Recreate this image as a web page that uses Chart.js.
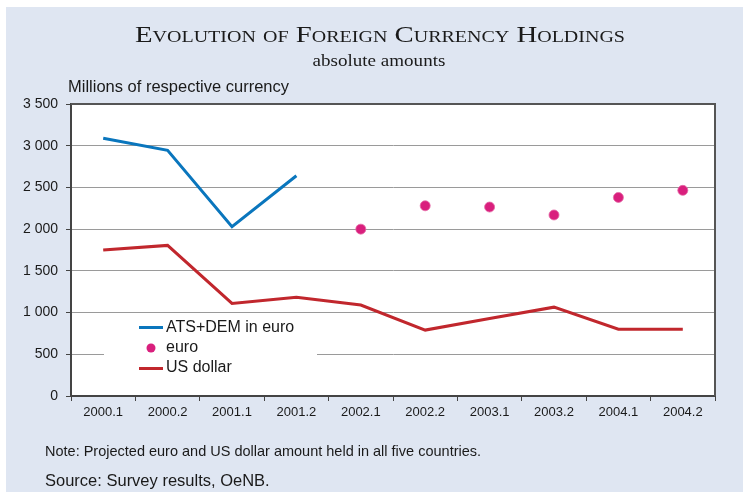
<!DOCTYPE html>
<html lang="en">
<head>
  <meta charset="UTF-8">
  <title>Evolution of Foreign Currency Holdings</title>
  <script src="https://cdn.jsdelivr.net/npm/chart.js"></script>
  <style>
    html, body {
      margin: 0;
      padding: 0;
      background: #fff;
    }
    #panel {
      position: absolute;
      left: 6px;
      top: 7px;
      width: 737px;
      height: 485px;
      background: #dfe6f2;
    }
    #wrap {
      position: absolute;
      left: 0;
      top: 0;
      width: 743px;
      height: 492px;
    }
    canvas {
      position: absolute;
      left: 0;
      top: 0;
    }
    .txt {
      position: absolute;
      white-space: nowrap;
      color: #1a1a1a;
    }
    #title {
      left: 0;
      width: 760px;
      text-align: center;
      top: 22px;
      font-family: "Liberation Serif", "Times New Roman", serif;
      font-size: 23px;
      font-variant: small-caps;
      line-height: 26px;
      transform: scaleX(1.25);
      transform-origin: 380px 0;
    }
    #subtitle {
      left: 0;
      width: 758px;
      text-align: center;
      top: 51px;
      font-family: "Liberation Serif", "Times New Roman", serif;
      font-size: 17px;
      line-height: 20px;
      transform: scaleX(1.12);
      transform-origin: 379px 0;
    }
    #unit {
      left: 68px;
      top: 77px;
      font-family: "Liberation Sans", Arial, sans-serif;
      font-size: 16.5px;
      line-height: 19px;
    }
    #note {
      left: 45px;
      top: 443px;
      font-family: "Liberation Sans", Arial, sans-serif;
      font-size: 14.5px;
      line-height: 17px;
    }
    #source {
      left: 45px;
      top: 471px;
      font-family: "Liberation Sans", Arial, sans-serif;
      font-size: 16.5px;
      line-height: 19px;
    }
  </style>
</head>
<body>
<div id="panel"></div>
<div id="wrap">
  <canvas id="chart" width="743" height="492"></canvas>
  <div class="txt" id="title">Evolution of Foreign Currency Holdings</div>
  <div class="txt" id="subtitle">absolute amounts</div>
  <div class="txt" id="unit">Millions of respective currency</div>
  <div class="txt" id="note">Note: Projected euro and US dollar amount held in all five countries.</div>
  <div class="txt" id="source">Source: Survey results, OeNB.</div>
</div>
<script>
const periods = ['2000.1', '2000.2', '2001.1', '2001.2', '2002.1', '2002.2', '2003.1', '2003.2', '2004.1', '2004.2'];
const atsDem = [3090, 2945, 2030, 2640, null, null, null, null, null, null];
const euro = [null, null, null, null, 2000, 2280, 2265, 2170, 2380, 2465];
const usDollar = [1750, 1805, 1110, 1185, 1090, 790, 930, 1065, 800, 800];
const yTicks = [0, 500, 1000, 1500, 2000, 2500, 3000, 3500];

const BLUE = '#0a76bd';
const RED = '#c1272d';
const PINK = '#d91f7d';

// white plot background + frame
const plotBox = {
  id: 'plotBox',
  beforeDraw(chart) {
    const a = chart.chartArea, c = chart.ctx;
    c.save();
    c.fillStyle = '#fff';
    c.fillRect(a.left, a.top, a.right - a.left, a.bottom - a.top);
    c.restore();
  },
  beforeDatasetsDraw(chart) {
    const c = chart.ctx;
    // legend backdrop hides gridline
    c.save();
    c.fillStyle = '#fff';
    c.fillRect(104, 318, 213, 66);
    c.restore();
  },
  afterDraw(chart) {
    const a = chart.chartArea, c = chart.ctx;
    c.save();
    c.strokeStyle = '#555';
    c.lineWidth = 2;
    c.beginPath();
    c.moveTo(a.left, a.top);
    c.lineTo(a.right, a.top);
    c.lineTo(a.right, a.bottom);
    c.stroke();
    // legend
    c.font = '16px "Liberation Sans", Arial, sans-serif';
    c.textBaseline = 'middle';
    c.fillStyle = '#1a1a1a';
    c.lineWidth = 3;
    c.strokeStyle = BLUE;
    c.beginPath(); c.moveTo(139, 327.5); c.lineTo(163, 327.5); c.stroke();
    c.fillText('ATS+DEM in euro', 166, 328);
    c.fillStyle = PINK;
    c.beginPath(); c.arc(151, 348, 4.5, 0, Math.PI * 2); c.fill();
    c.fillStyle = '#1a1a1a';
    c.fillText('euro', 166, 348);
    c.strokeStyle = RED;
    c.beginPath(); c.moveTo(139, 368.5); c.lineTo(163, 368.5); c.stroke();
    c.fillText('US dollar', 166, 368);
    c.restore();
  }
};

new Chart(document.getElementById('chart'), {
  type: 'line',
  data: {
    labels: periods,
    datasets: [
      { label: 'ATS+DEM in euro', data: atsDem, borderColor: BLUE, borderWidth: 3, pointRadius: 0, spanGaps: false, tension: 0 },
      { label: 'euro', data: euro, showLine: false, pointRadius: 5, pointBackgroundColor: PINK, pointBorderColor: '#e46aa6', pointBorderWidth: 0.8 },
      { label: 'US dollar', data: usDollar, borderColor: RED, borderWidth: 3, pointRadius: 0, tension: 0 }
    ]
  },
  options: {
    responsive: false,
    animation: false,
    layout: { padding: { left: 0, top: 104, right: 28, bottom: 66 } },
    plugins: {
      legend: { display: false },
      title: { display: false },
      tooltip: { enabled: false }
    },
    scales: {
      x: {
        offset: true,
        afterFit: s => { s.height = 30; },
        grid: { drawOnChartArea: false, drawTicks: true, tickLength: 5, tickColor: '#444', offset: true },
        border: { color: '#444', width: 2 },
        ticks: {
          color: '#1a1a1a',
          padding: 4,
          maxRotation: 0,
          font: { family: '"Liberation Sans", Arial, sans-serif', size: 13 }
        }
      },
      y: {
        min: 0,
        max: 3500,
        afterFit: s => { s.width = 71; },
        afterBuildTicks: s => { s.ticks = yTicks.map(v => ({ value: v })); },
        grid: { color: '#9a9a9a', lineWidth: 1, tickLength: 5, tickColor: '#444' },
        border: { color: '#444', width: 2 },
        ticks: {
          color: '#1a1a1a',
          padding: 8,
          font: { family: '"Liberation Sans", Arial, sans-serif', size: 14 },
          callback: v => String(v).replace(/\B(?=(\d{3})+(?!\d))/g, ' ')
        }
      }
    }
  },
  plugins: [plotBox]
});
</script>
</body>
</html>
